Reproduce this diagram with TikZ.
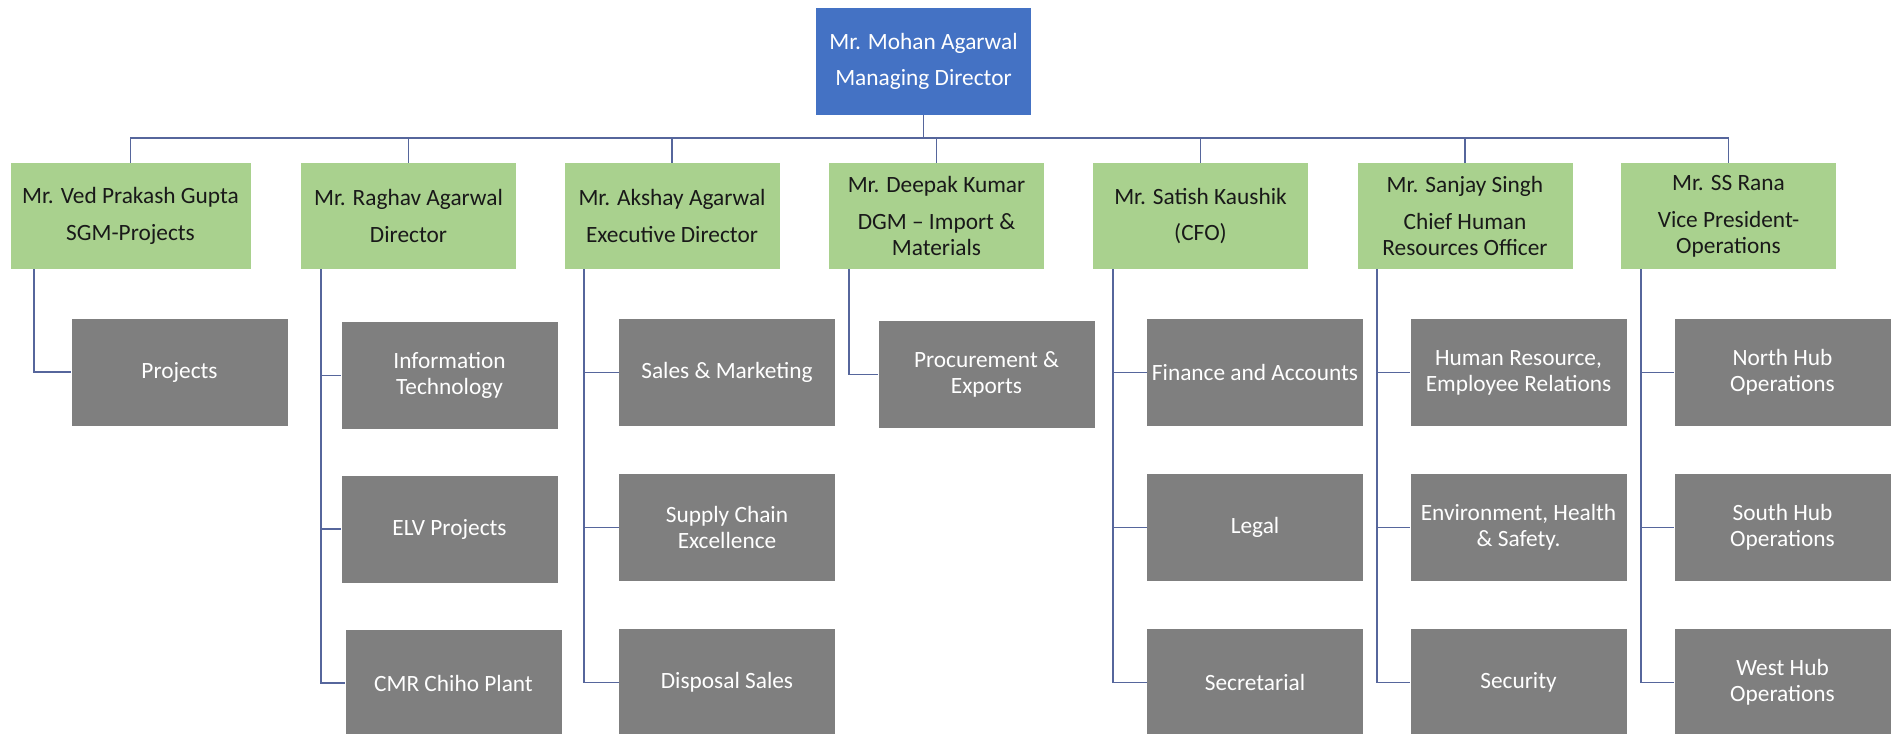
\documentclass[tikz,border=0pt]{standalone}
\usepackage{fontspec}
\setmainfont{Carlito}
\definecolor{mdblue}{HTML}{4472C4}
\definecolor{headgreen}{HTML}{A9D18E}
\definecolor{unitgray}{HTML}{7F7F7F}
\definecolor{linkblue}{HTML}{56669C}

\begin{document}
\begin{tikzpicture}[x=0.75pt, y=-0.75pt,
  mdbox/.style={fill=mdblue, text=white, minimum width=161.25pt, minimum height=80.25pt,
    inner sep=0pt, align=center, font=\fontsize{17.5}{19.5}\selectfont},
  headbox/.style={fill=headgreen, text=black!90, minimum width=161.25pt, minimum height=79.5pt,
    inner sep=0pt, align=center, font=\fontsize{17.5}{19.5}\selectfont},
  unitbox/.style={fill=unitgray, text=white, minimum width=162pt, minimum height=80.25pt,
    inner sep=0pt, align=center, font=\fontsize{17.5}{19.5}\selectfont},
  link/.style={draw=linkblue, line width=1.3pt}]
\useasboundingbox (0,0) rectangle (1898,733);

% top
\node[mdbox] (md) at (923.5,61.5) {Mr. Mohan Agarwal\\[8pt]Managing Director};
\coordinate (bus) at (0,138);

% heads
\node[headbox, minimum width=180pt] (ved) at (130.5,216) {Mr. Ved Prakash Gupta\\[8pt]SGM-Projects};
\node[headbox] (raghav) at (408.5,216) {Mr. Raghav Agarwal\\[8pt]Director};
\node[headbox] (akshay) at (672,216) {Mr. Akshay Agarwal\\[8pt]Executive Director};
\node[headbox] (deepak) at (936.5,216) {Mr. Deepak Kumar\\[8pt]DGM – Import \&\\Materials};
\node[headbox] (satish) at (1200.5,216) {Mr. Satish Kaushik\\[8pt](CFO)};
\node[headbox] (sanjay) at (1465,216) {Mr. Sanjay Singh\\[8pt]Chief Human\\Resources Officer};
\node[headbox] (rana) at (1728.5,216) {Mr. SS Rana\\[8pt]Vice President-\\Operations};

% units
\node[unitbox] (proj) at (179.5,372) {Projects};
\node[unitbox] (infotech) at (449.5,375.5) {Information\\Technology};
\node[unitbox] (elv) at (449.5,529) {ELV Projects};
\node[unitbox] (cmr) at (453.5,683) {CMR Chiho Plant};
\node[unitbox] (sales) at (727,372.5) {Sales \& Marketing};
\node[unitbox] (supply) at (727,527.5) {Supply Chain\\Excellence};
\node[unitbox] (disposal) at (727,682.5) {Disposal Sales};
\node[unitbox] (procure) at (986.5,374.5) {Procurement \&\\Exports};
\node[unitbox] (finance) at (1255,372.5) {Finance and Accounts};
\node[unitbox] (legal) at (1255,527.5) {Legal};
\node[unitbox] (secretarial) at (1255,682.5) {Secretarial};
\node[unitbox] (hr) at (1518.5,372.5) {Human Resource,\\Employee Relations};
\node[unitbox] (ehs) at (1518.5,527.5) {Environment, Health\\\& Safety.};
\node[unitbox] (security) at (1518.5,682.5) {Security};
\node[unitbox] (north) at (1782.5,372.5) {North Hub\\Operations};
\node[unitbox] (south) at (1782.5,527.5) {South Hub\\Operations};
\node[unitbox] (west) at (1782.5,682.5) {West Hub\\Operations};

% md to heads
\draw[link] (md.south) -- (md.south |- bus);
\draw[link] (ved.north) -- (ved.north |- bus) -- (rana.north |- bus) -- (rana.north);
\draw[link] (raghav.north) -- (raghav.north |- bus);
\draw[link] (akshay.north) -- (akshay.north |- bus);
\draw[link] (deepak.north) -- (deepak.north |- bus);
\draw[link] (satish.north) -- (satish.north |- bus);
\draw[link] (sanjay.north) -- (sanjay.north |- bus);

% heads to units
\draw[link] ([xshift=18pt]ved.south west) |- (proj.west);
\draw[link] ([xshift=15pt]raghav.south west) |- (infotech.west);
\draw[link] ([xshift=15pt]raghav.south west) |- (elv.west);
\draw[link] ([xshift=15pt]raghav.south west) |- (cmr.west);
\draw[link] ([xshift=15pt]akshay.south west) |- (sales.west);
\draw[link] ([xshift=15pt]akshay.south west) |- (supply.west);
\draw[link] ([xshift=15pt]akshay.south west) |- (disposal.west);
\draw[link] ([xshift=15pt]deepak.south west) |- (procure.west);
\draw[link] ([xshift=15pt]satish.south west) |- (finance.west);
\draw[link] ([xshift=15pt]satish.south west) |- (legal.west);
\draw[link] ([xshift=15pt]satish.south west) |- (secretarial.west);
\draw[link] ([xshift=15pt]sanjay.south west) |- (hr.west);
\draw[link] ([xshift=15pt]sanjay.south west) |- (ehs.west);
\draw[link] ([xshift=15pt]sanjay.south west) |- (security.west);
\draw[link] ([xshift=15pt]rana.south west) |- (north.west);
\draw[link] ([xshift=15pt]rana.south west) |- (south.west);
\draw[link] ([xshift=15pt]rana.south west) |- (west.west);
\end{tikzpicture}
\end{document}
